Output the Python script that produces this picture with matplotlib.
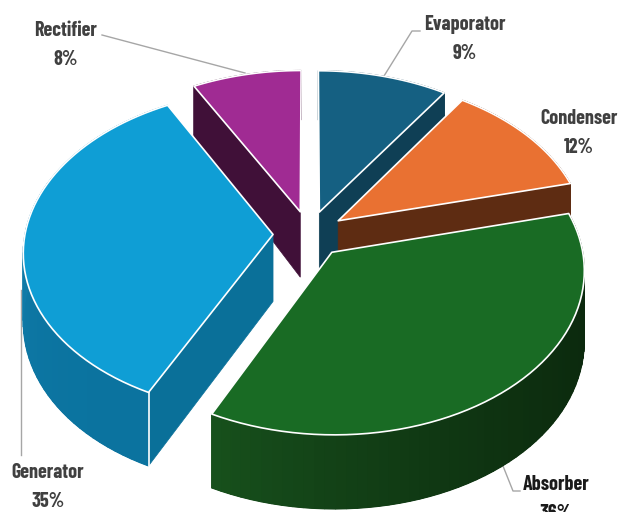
import numpy as np
import matplotlib.pyplot as plt
from matplotlib.colors import to_rgb

# chart data (labels in the picture are rounded, slice sizes say a bit more)
labels = ['Evaporator', 'Condenser', 'Absorber', 'Generator', 'Rectifier']
values = [9.4, 11.7, 36.2, 34.8, 7.9]

# colours, in the same order as the data
top_colors = ['#156082', '#E97132', '#196B24', '#0F9ED5', '#A02B93']
side_colors = ['#0F3F55', '#5E2C12', '#0B280D', '#0A7099', '#401038']
wall_start = ['#0F3F55', '#5E2C12', '#0B280D', '#0B739F', '#401038']
wall_end = ['#0F3F55', '#5E2C12', '#17501C', '#1B8FC0', '#401038']
draw_order = [4, 0, 1, 3, 2]
# which radial face of each slice can be seen: 0 start, -1 end
seen_face = [-1, -1, None, 0, 0]

# projection of the tilted pie onto the picture, in pixels
cx, cy = 309, 234
sx, sy, persp = 248, 160, 0.102
explode = 0.145


def project(x, y, lower=False):
    w = 1 + persp * y
    px = cx + sx * x / w
    py = cy - sy * y / w
    if lower:
        py = py + 67 - 10.9 * y - 4.1 * y ** 2
    return px, py


def lerp_color(c1, c2, t):
    a = np.array(to_rgb(c1))
    b = np.array(to_rgb(c2))
    return a + (b - a) * t


fig = plt.figure(figsize=(6.19, 5.12), dpi=100)
ax = fig.add_axes([0, 0, 1, 1])
ax.set_xlim(0, 619)
ax.set_ylim(512, 0)
ax.axis('off')

# slice angles, clockwise from twelve o'clock
edges = np.radians(np.cumsum([0] + values) / sum(values) * 360)

for n, i in enumerate(draw_order):
    a0, a1 = edges[i], edges[i + 1]
    mid = (a0 + a1) / 2
    ox, oy = explode * np.sin(mid), explode * np.cos(mid)
    t = np.linspace(a0, a1, 60)
    x = ox + np.sin(t)
    y = oy + np.cos(t)
    z = 1 + n * 3

    # radial face
    end = seen_face[i]
    if end is not None:
        fx = [ox, x[end], x[end], ox]
        fy = [oy, y[end], y[end], oy]
        low = [False, False, True, True]
        pts = [project(fx[m], fy[m], low[m]) for m in range(4)]
        ax.fill([p[0] for p in pts], [p[1] for p in pts],
                color=side_colors[i], lw=0.5, zorder=z)

    # outer wall: one flat base, then strips for the gradient
    px, py = project(x, y)
    qx, qy = project(x, y, lower=True)
    ax.fill(np.concatenate([px, qx[::-1]]), np.concatenate([py, qy[::-1]]),
            color=lerp_color(wall_start[i], wall_end[i], 0.25), lw=0.3, zorder=z + 0.5)
    for k in range(len(t) - 1):
        c = lerp_color(wall_start[i], wall_end[i], (k / (len(t) - 2)) ** 2)
        ax.fill([px[k], px[k + 1], qx[k + 1], qx[k]],
                [py[k], py[k + 1], qy[k + 1], qy[k]],
                color=c, lw=0.9, zorder=z + 0.6)

    # top surface
    tx, ty = project(np.concatenate([[ox], x]), np.concatenate([[oy], y]))
    ax.fill(tx, ty, facecolor=top_colors[i], edgecolor='white', lw=1.2,
            joinstyle='round', zorder=z + 1)

    # white line down the front corner of the generator
    if labels[i] == 'Generator':
        p0 = project(x[0], y[0])
        p1 = project(x[0], y[0], lower=True)
        ax.plot([p0[0], p1[0]], [p0[1], p1[1]], color='white', lw=1.2, zorder=z + 0.8)

# leader lines and labels
font = ['Barlow Condensed', 'Liberation Sans', 'DejaVu Sans']
leaders = {
    'Evaporator': ([384, 412, 420], [76, 31, 31]),
    'Condenser': ([], []),
    'Absorber': ([503, 513, 520], [466, 491, 491]),
    'Generator': ([21, 21], [290, 455]),
    'Rectifier': ([245, 102], [73, 35]),
}
label_pos = {
    'Evaporator': (465, 24),
    'Condenser': (579, 118),
    'Absorber': (556, 484),
    'Generator': (48, 472),
    'Rectifier': (66, 30),
}
for name, val in zip(labels, values):
    lx, ly = leaders[name]
    ax.plot(lx, ly, color='#A6A6A6', lw=1.0, zorder=0)
    col = '#1A1A1A' if name == 'Absorber' else '#404040'
    x0, y0 = label_pos[name]
    ax.text(x0, y0, name, ha='center', va='center', family=font, weight='bold',
            fontsize=14.5, color=col, zorder=30)
    ax.text(x0, y0 + 29.5, f'{val:.0f}%', ha='center', va='center', family=font,
            weight='bold', fontsize=14.5, color=col, zorder=30)

fig.savefig('out.png', dpi=100)
